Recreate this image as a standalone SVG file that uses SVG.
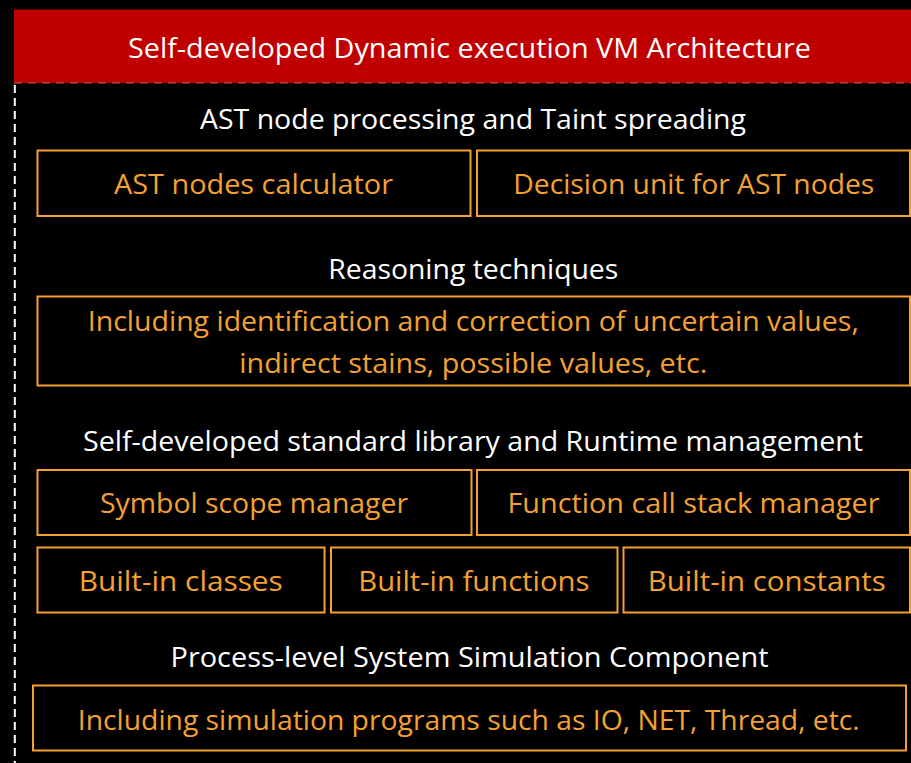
<svg xmlns="http://www.w3.org/2000/svg" width="911" height="763" viewBox="0 0 911 763">
  <style>
    .box { fill: #000; stroke: #F4A132; stroke-width: 2; }
    .lbl { font-family: "Open Sans", "Noto Sans", sans-serif; font-size: 28px; fill: #FFFFFF; text-anchor: middle; }
    .txt { font-family: "Open Sans", "Noto Sans", sans-serif; font-size: 28px; fill: #F4A132; text-anchor: middle; }
  </style>
  <rect x="0" y="0" width="911" height="763" fill="#000"/>

  <!-- frame: header band and dashed outline -->
  <g id="frame">
    <rect x="14" y="9.5" width="920" height="73.5" fill="#C00000"/>
    <line x1="14" y1="83" x2="911" y2="83" stroke="#B86060" stroke-width="1.2" stroke-dasharray="8 6"/>
    <line x1="14.8" y1="85" x2="14.8" y2="763" stroke="#FFFFFF" stroke-width="2" stroke-dasharray="8 5"/>
    <text class="lbl" x="469.5" y="58" textLength="683" lengthAdjust="spacingAndGlyphs">Self-developed Dynamic execution VM Architecture</text>
  </g>

  <!-- AST node processing -->
  <g id="ast-section">
    <text class="lbl" x="473" y="129" textLength="546" lengthAdjust="spacingAndGlyphs">AST node processing and Taint spreading</text>
  </g>
  <g id="ast-calculator">
    <rect class="box" x="37.5" y="150.5" width="433" height="65.5"/>
    <text class="txt" x="253.5" y="194" textLength="279" lengthAdjust="spacingAndGlyphs">AST nodes calculator</text>
  </g>
  <g id="ast-decision">
    <rect class="box" x="477" y="150.5" width="433" height="65.5"/>
    <text class="txt" x="693.8" y="194" textLength="361" lengthAdjust="spacingAndGlyphs">Decision unit for AST nodes</text>
  </g>

  <!-- Reasoning -->
  <g id="reasoning-section">
    <text class="lbl" x="473.3" y="279" textLength="290" lengthAdjust="spacingAndGlyphs">Reasoning techniques</text>
  </g>
  <g id="reasoning">
    <rect class="box" x="37.5" y="296.5" width="872.5" height="89"/>
    <text class="txt" x="473.3" y="331" textLength="771" lengthAdjust="spacingAndGlyphs">Including identification and correction of uncertain values,</text>
    <text class="txt" x="473.3" y="373" textLength="468" lengthAdjust="spacingAndGlyphs">indirect stains, possible values, etc.</text>
  </g>

  <!-- Standard library and runtime -->
  <g id="runtime-section">
    <text class="lbl" x="473" y="451" textLength="780" lengthAdjust="spacingAndGlyphs">Self-developed standard library and Runtime management</text>
  </g>
  <g id="symbol-scope">
    <rect class="box" x="37.5" y="470" width="434" height="65"/>
    <text class="txt" x="254" y="513" textLength="308" lengthAdjust="spacingAndGlyphs">Symbol scope manager</text>
  </g>
  <g id="call-stack">
    <rect class="box" x="477" y="470" width="433" height="65"/>
    <text class="txt" x="693.5" y="513" textLength="372" lengthAdjust="spacingAndGlyphs">Function call stack manager</text>
  </g>
  <g id="builtin-classes">
    <rect class="box" x="37.5" y="547.5" width="287" height="65"/>
    <text class="txt" x="180.8" y="591" textLength="204" lengthAdjust="spacingAndGlyphs">Built-in classes</text>
  </g>
  <g id="builtin-functions">
    <rect class="box" x="331" y="547.5" width="286.5" height="65"/>
    <text class="txt" x="473.8" y="591" textLength="231" lengthAdjust="spacingAndGlyphs">Built-in functions</text>
  </g>
  <g id="builtin-constants">
    <rect class="box" x="623.5" y="547.5" width="286.5" height="65"/>
    <text class="txt" x="766.8" y="591" textLength="238" lengthAdjust="spacingAndGlyphs">Built-in constants</text>
  </g>

  <!-- Process-level simulation -->
  <g id="simulation-section">
    <text class="lbl" x="469.5" y="667" textLength="598" lengthAdjust="spacingAndGlyphs">Process-level System Simulation Component</text>
  </g>
  <g id="simulation">
    <rect class="box" x="33" y="685.5" width="873" height="65"/>
    <text class="txt" x="468.8" y="730" textLength="782" lengthAdjust="spacingAndGlyphs">Including simulation programs such as IO, NET, Thread, etc.</text>
  </g>
</svg>
